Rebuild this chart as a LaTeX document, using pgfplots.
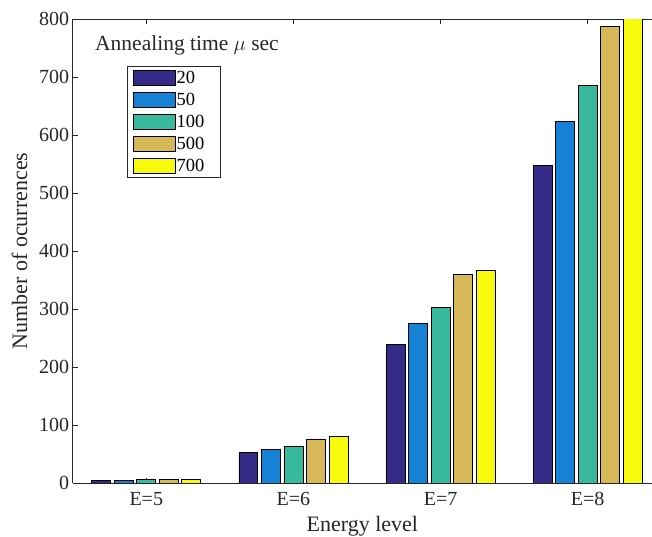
\documentclass[border=0pt]{standalone}
\usepackage{fontspec}
\setmainfont{Liberation Serif}
\usepackage{pgfplots}
\pgfplotsset{compat=1.18}
\definecolor{c1}{HTML}{352A87}
\definecolor{c2}{HTML}{1582D6}
\definecolor{c3}{HTML}{38B89D}
\definecolor{c4}{HTML}{D6B858}
\definecolor{c5}{HTML}{F8FA0D}
\definecolor{axc}{HTML}{262626}
\pgfplotsset{
  mylegend/.style={legend image code/.code={\draw[##1,line width=0.8pt] (0pt,-7.5pt) rectangle (42pt,7.5pt);}},
  mybar/.style={ybar, bar width=0.129, draw=black, line width=0.8pt, fill=#1, mylegend},
}
\begin{document}
\begin{tikzpicture}
\begin{axis}[
  scale only axis, width=579.3pt, height=464pt,
  xmin=0.5, xmax=4.437, ymin=0, ymax=800,
  axis x line*=box, axis y line*=left, axis line style={-, axc, line width=0.8pt},
  xtick={1,2,3,4}, xticklabels={E=5,E=6,E=7,E=8},
  ytick={0,100,...,800},
  major tick length=5pt, tick style={axc, line width=0.8pt},
  /pgf/number format/assume math mode=true,
  ticklabel style={font=\fontsize{20}{24}\selectfont, text=axc},
  xticklabel style={yshift=-6pt},
  label style={font=\fontsize{22}{26}\selectfont, text=axc},
  xlabel={Energy level}, ylabel={Number of ocurrences},
  xlabel style={yshift=-3pt},
  ylabel style={yshift=5pt},
  legend style={at={(rel axis cs:0.0944,0.899)}, anchor=north west,
    font=\fontsize{18.5}{20}\selectfont, draw=axc, line width=0.8pt,
    inner xsep=5pt, inner ysep=3.5pt, row sep=6.2pt, nodes={inner sep=1pt}},
  legend cell align=left,
  clip=true,
]
\addplot[mybar=c1, bar shift=-0.306] coordinates {(1,4) (2,52) (3,238.4) (4,548)};
\addplot[mybar=c2, bar shift=-0.153] coordinates {(1,5) (2,58) (3,274.7) (4,624)};
\addplot[mybar=c3, bar shift=0] coordinates {(1,6) (2,63) (3,302.9) (4,685.7)};
\addplot[mybar=c4, bar shift=0.153] coordinates {(1,6) (2,76) (3,359) (4,787.4)};
\addplot[mybar=c5, bar shift=0.306] coordinates {(1,6) (2,80) (3,366) (4,805)};
\legend{20,50,100,500,700\hspace*{10pt}}
\node[anchor=west, font=\fontsize{21.5}{24}\selectfont, text=axc, inner sep=0pt] at (rel axis cs:0.0385,0.944) {Annealing time $\mu$ sec};
\end{axis}
\pgfresetboundingbox
\path (current axis.south west) ++(-72.7pt,-54pt) rectangle ++(652pt,537pt);
\end{tikzpicture}
\end{document}
